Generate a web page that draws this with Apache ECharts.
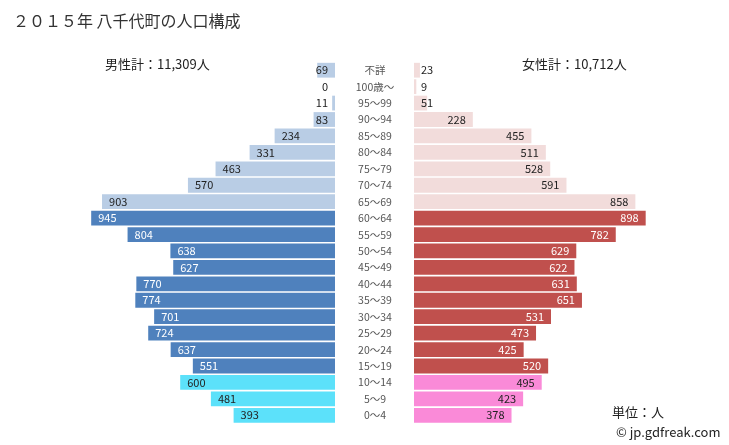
<!DOCTYPE html>
<html><head><meta charset="utf-8">
<script src="https://cdn.jsdelivr.net/npm/echarts@6/dist/echarts.min.js"></script>
<style>html,body{margin:0;padding:0;background:#fff}#c{width:729px;height:445px}</style>
</head><body><div id="c"></div>
<script>
const categories = ['不詳','100歳～','95～99','90～94','85～89','80～84','75～79','70～74','65～69','60～64','55～59','50～54','45～49','40～44','35～39','30～34','25～29','20～24','15～19','10～14','5～9','0～4'];
const male = [69,0,11,83,234,331,463,570,903,945,804,638,627,770,774,701,724,637,551,600,481,393];
const female = [23,9,51,228,455,511,528,591,858,898,782,629,622,631,651,531,473,425,520,495,423,378];
const titleText = '２０１５年 八千代町の人口構成';
const maleTotal = '男性計：11,309人';
const femaleTotal = '女性計：10,712人';
const unitText = '単位：人';
const creditText = '© jp.gdfreak.com';

const FONT = '"Noto Sans CJK JP", "Noto Sans", sans-serif';
function group(i){ return i <= 8 ? 0 : (i <= 18 ? 1 : 2); }
const maleColors = ['#b9cde5','#4f81bd','#5ce1fa'];
const femaleColors = ['#f2dcdb','#c0504d','#fa8ad8'];
const labelColors = ['#222','#fff','#222'];

const maleData = male.map((v,i)=>({
  value: v,
  itemStyle: {color: maleColors[group(i)]},
  label: {position: v < 100 ? 'insideRight' : 'insideLeft', color: labelColors[group(i)]}
}));
const femaleData = female.map((v,i)=>({
  value: v,
  itemStyle: {color: femaleColors[group(i)]},
  label: {position: v < 100 ? 'insideLeft' : 'insideRight', color: labelColors[group(i)]}
}));

const chart = echarts.init(document.getElementById('c'));
const gridTop = 62, gridHeight = 361.5;
chart.setOption({
  animation: false,
  textStyle: {fontFamily: FONT},
  title: [
    {text: titleText, left: 8, top: 8, textStyle: {fontSize: 16, fontWeight: 'normal', color: '#333', fontFamily: FONT}},
    {text: maleTotal, left: 100, top: 53, textStyle: {fontSize: 13, fontWeight: 'normal', color: '#222', fontFamily: FONT}},
    {text: femaleTotal, left: 517, top: 53, textStyle: {fontSize: 13, fontWeight: 'normal', color: '#222', fontFamily: FONT}},
    {text: unitText, left: 607, top: 401, textStyle: {fontSize: 13, fontWeight: 'normal', color: '#222', fontFamily: FONT}},
    {text: creditText, left: 611, top: 421, textStyle: {fontSize: 13, fontWeight: 'normal', color: '#222', fontFamily: FONT}}
  ],
  grid: [
    {left: 77, width: 258, top: gridTop, height: gridHeight},
    {left: 414, width: 258, top: gridTop, height: gridHeight}
  ],
  xAxis: [
    {gridIndex: 0, type: 'value', min: 0, max: 1000, inverse: true, show: false},
    {gridIndex: 1, type: 'value', min: 0, max: 1000, show: false}
  ],
  yAxis: [
    {gridIndex: 0, type: 'category', data: categories, inverse: true, position: 'right',
     axisLine: {show: false}, axisTick: {show: false},
     axisLabel: {align: 'center', margin: 40, fontSize: 10.5, color: '#555', fontFamily: FONT}},
    {gridIndex: 1, type: 'category', data: categories, inverse: true, show: false}
  ],
  series: [
    {type: 'bar', xAxisIndex: 0, yAxisIndex: 0, data: maleData, barCategoryGap: '10%',
     label: {show: true, distance: 7, fontSize: 11, fontFamily: FONT}},
    {type: 'bar', xAxisIndex: 1, yAxisIndex: 1, data: femaleData, barCategoryGap: '10%',
     label: {show: true, distance: 7, fontSize: 11, fontFamily: FONT}}
  ]
});
</script></body></html>
